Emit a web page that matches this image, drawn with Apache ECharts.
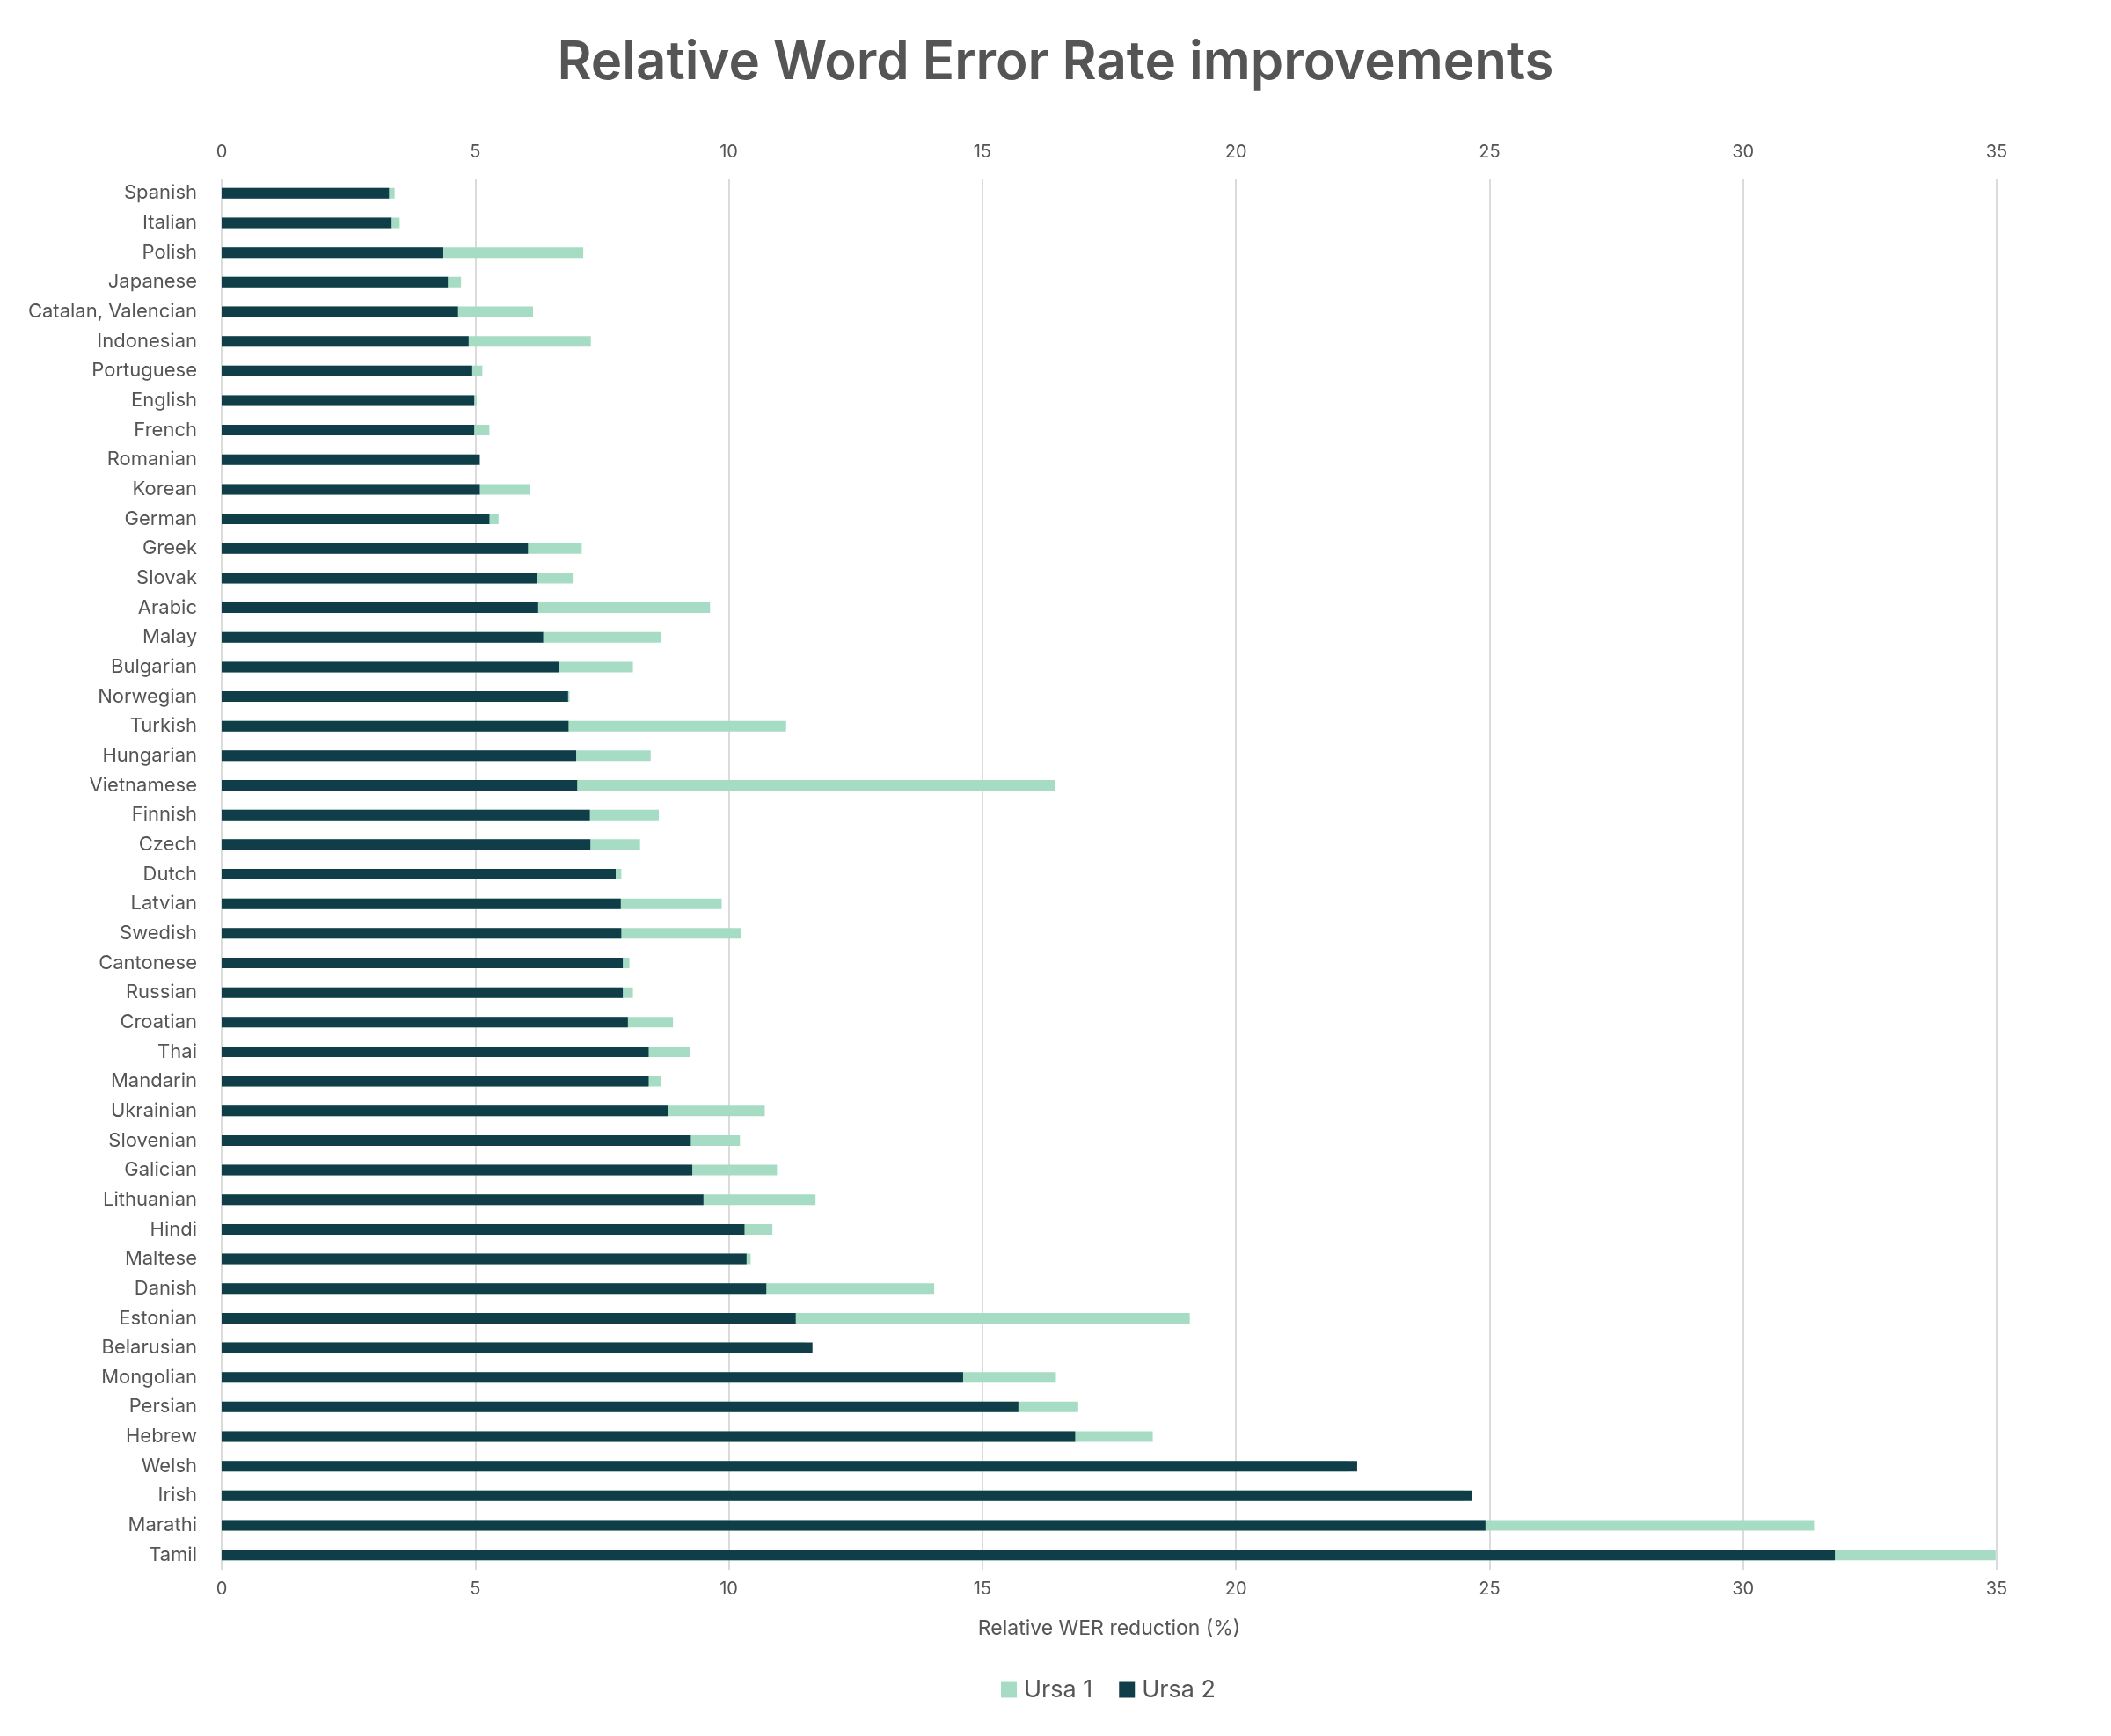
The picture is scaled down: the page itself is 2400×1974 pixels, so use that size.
<!DOCTYPE html>
<html>
<head>
<meta charset="utf-8">
<script src="https://cdn.jsdelivr.net/npm/echarts@6/dist/echarts.min.js"></script>
<style>
html,body{margin:0;padding:0;background:#fff;}
#chart{width:2400px;height:1974px;}
</style>
</head>
<body>
<div id="chart"></div>
<script>
const languages = ["Spanish","Italian","Polish","Japanese","Catalan, Valencian","Indonesian","Portuguese","English","French","Romanian","Korean","German","Greek","Slovak","Arabic","Malay","Bulgarian","Norwegian","Turkish","Hungarian","Vietnamese","Finnish","Czech","Dutch","Latvian","Swedish","Cantonese","Russian","Croatian","Thai","Mandarin","Ukrainian","Slovenian","Galician","Lithuanian","Hindi","Maltese","Danish","Estonian","Belarusian","Mongolian","Persian","Hebrew","Welsh","Irish","Marathi","Tamil"];

const ursa1 = [3.41,3.51,7.13,4.72,6.14,7.28,5.14,5.03,5.28,5.0,6.08,5.46,7.10,6.94,9.63,8.66,8.11,6.86,11.13,8.46,16.44,8.62,8.25,7.88,9.86,10.25,8.04,8.11,8.90,9.23,8.67,10.71,10.22,10.95,11.71,10.86,10.43,14.05,19.09,11.5,16.45,16.89,18.36,22.2,24.5,31.40,34.98];

const ursa2 = [3.30,3.35,4.37,4.46,4.66,4.87,4.94,4.98,4.98,5.09,5.09,5.28,6.04,6.22,6.24,6.34,6.66,6.83,6.84,6.99,7.01,7.26,7.27,7.77,7.87,7.88,7.91,7.91,8.01,8.42,8.42,8.81,9.25,9.28,9.50,10.31,10.35,10.74,11.32,11.65,14.62,15.71,16.83,22.39,24.65,24.92,31.81];

const xTicks = [0,5,10,15,20,25,30,35];

const FONT = 'Inter, "DejaVu Sans", sans-serif';
const TXT = '#555555';

const chart = echarts.init(document.getElementById('chart'), null, {renderer:'canvas'});
const axisCommon = {
  type:'value', min:xTicks[0], max:xTicks[xTicks.length-1], interval:5,
  axisLine:{show:false}, axisTick:{show:false},
  splitLine:{show:true, lineStyle:{color:'#d9d9d9', width:1.5}},
  axisLabel:{color:TXT, fontFamily:FONT, fontSize:20}
};
chart.setOption({
  backgroundColor:'#ffffff',
  animation:false,
  title:{
    text:'Relative Word Error Rate improvements',
    left:'center', top:37,
    textStyle:{color:'#555555', fontFamily:FONT, fontSize:60, fontWeight:600}
  },
  grid:{left:252, right:130, top:203, bottom:189, containLabel:false},
  legend:{
    top:1903, left:1133,
    itemWidth:18, itemHeight:18, itemGap:30,
    icon:'rect',
    textStyle:{color:TXT, fontFamily:FONT, fontSize:27, padding:[0,0,0,3]},
    data:['Ursa 1','Ursa 2']
  },
  xAxis:[
    Object.assign({}, axisCommon, {position:'bottom',
      name:'Relative WER reduction (%)', nameLocation:'middle', nameGap:56,
      nameTextStyle:{color:TXT, fontFamily:FONT, fontSize:23},
      axisLabel:Object.assign({}, axisCommon.axisLabel, {margin:12})}),
    Object.assign({}, axisCommon, {position:'top',
      axisLabel:Object.assign({}, axisCommon.axisLabel, {margin:20})})
  ],
  yAxis:{
    type:'category', data:languages, inverse:true,
    axisLine:{show:false}, axisTick:{show:false}, splitLine:{show:false},
    axisLabel:{color:TXT, fontFamily:FONT, fontSize:22, margin:28}
  },
  series:[
    {name:'Ursa 1', type:'bar', data:ursa1, barWidth:12, barGap:'-100%',
     itemStyle:{color:'#a6dcc4'}, xAxisIndex:0},
    {name:'Ursa 2', type:'bar', data:ursa2, barWidth:12, barGap:'-100%',
     itemStyle:{color:'#0f3d48'}, xAxisIndex:0}
  ]
});
</script>
</body>
</html>
